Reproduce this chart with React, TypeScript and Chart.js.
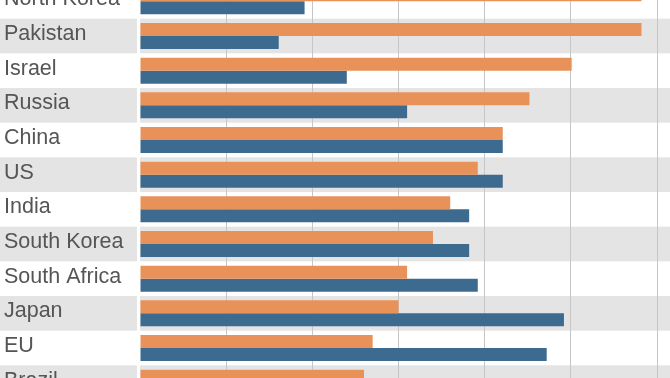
import React, { useEffect, useRef } from "react";
import { Chart, registerables } from "chart.js";

Chart.register(...registerables);

const categories = [
  "North Korea", "Pakistan", "Israel", "Russia", "China", "US",
  "India", "South Korea", "South Africa", "Japan", "EU", "Brazil",
];
const orangeValues = [58.2, 58.2, 50.1, 45.2, 42.1, 39.2, 36.0, 34.0, 31.0, 30.0, 27.0, 26.0];
const blueValues = [19.1, 16.1, 24.0, 31.0, 42.1, 42.1, 38.2, 38.2, 39.2, 49.2, 47.2, 40.0];
const xTicks = [0, 10, 20, 30, 40, 50, 60];

const bandPlugin = {
  id: "bands",
  beforeDraw(chart: any) {
    const { ctx, scales, chartArea, width } = chart;
    const y = scales.y;
    const n = categories.length;
    const step = (chartArea.bottom - chartArea.top) / n;
    ctx.save();
    ctx.fillStyle = "#e4e4e4";
    for (let i = 0; i < n; i++) {
      if (i % 2 === 1) {
        const c = y.getPixelForValue(i);
        const top = c - step / 2;
        ctx.fillRect(0, top, chartArea.left - 3, step);
        ctx.fillRect(chartArea.left, top, width - chartArea.left, step);
      }
    }
    ctx.restore();
  },
};

export default function App() {
  const ref = useRef<HTMLCanvasElement | null>(null);
  useEffect(() => {
    if (!ref.current) return;
    const chart = new Chart(ref.current, {
      type: "bar",
      data: {
        labels: categories,
        datasets: [
          { data: orangeValues, backgroundColor: "#e8925a", borderWidth: 0 },
          { data: blueValues, backgroundColor: "#3d6a8f", borderWidth: 0 },
        ],
      },
      plugins: [bandPlugin],
      options: {
        indexAxis: "y",
        animation: false,
        responsive: false,
        maintainAspectRatio: false,
        layout: { padding: { left: 4, right: 13, top: 0, bottom: 0 } },
        datasets: { bar: { barPercentage: 1.0, categoryPercentage: 0.75 } },
        plugins: { legend: { display: false }, tooltip: { enabled: false } },
        scales: {
          x: {
            min: 0,
            max: 60,
            afterBuildTicks: (scale: any) => {
              scale.ticks = xTicks.map((v) => ({ value: v }));
            },
            afterFit: (scale: any) => {
              scale.height = 0;
              scale.paddingLeft = 0;
              scale.paddingRight = 0;
            },
            ticks: { display: false },
            border: { display: false },
            grid: {
              color: (c: any) => (c.tick && c.tick.value === 0 ? "rgba(0,0,0,0)" : "#c6c6c6"),
              lineWidth: 1,
              drawTicks: false,
            },
          },
          y: {
            afterFit: (scale: any) => {
              scale.width = 136;
              scale.paddingTop = 0;
              scale.paddingBottom = 0;
            },
            grid: { display: false, drawTicks: false },
            border: { display: false },
            ticks: {
              crossAlign: "far",
              color: "#555555",
              padding: 0,
              labelOffset: -2,
              font: { family: "'Liberation Sans', Arial, sans-serif", size: 21.5 },
            },
          },
        },
      },
    });
    return () => chart.destroy();
  }, []);
  return (
    <div style={{ position: "fixed", left: 0, top: 0, width: 670, height: 378, overflow: "hidden", background: "#fff" }}>
      <canvas ref={ref} width={670} height={416} style={{ position: "absolute", left: 0, top: -16, width: 670, height: 416 }} />
    </div>
  );
}
